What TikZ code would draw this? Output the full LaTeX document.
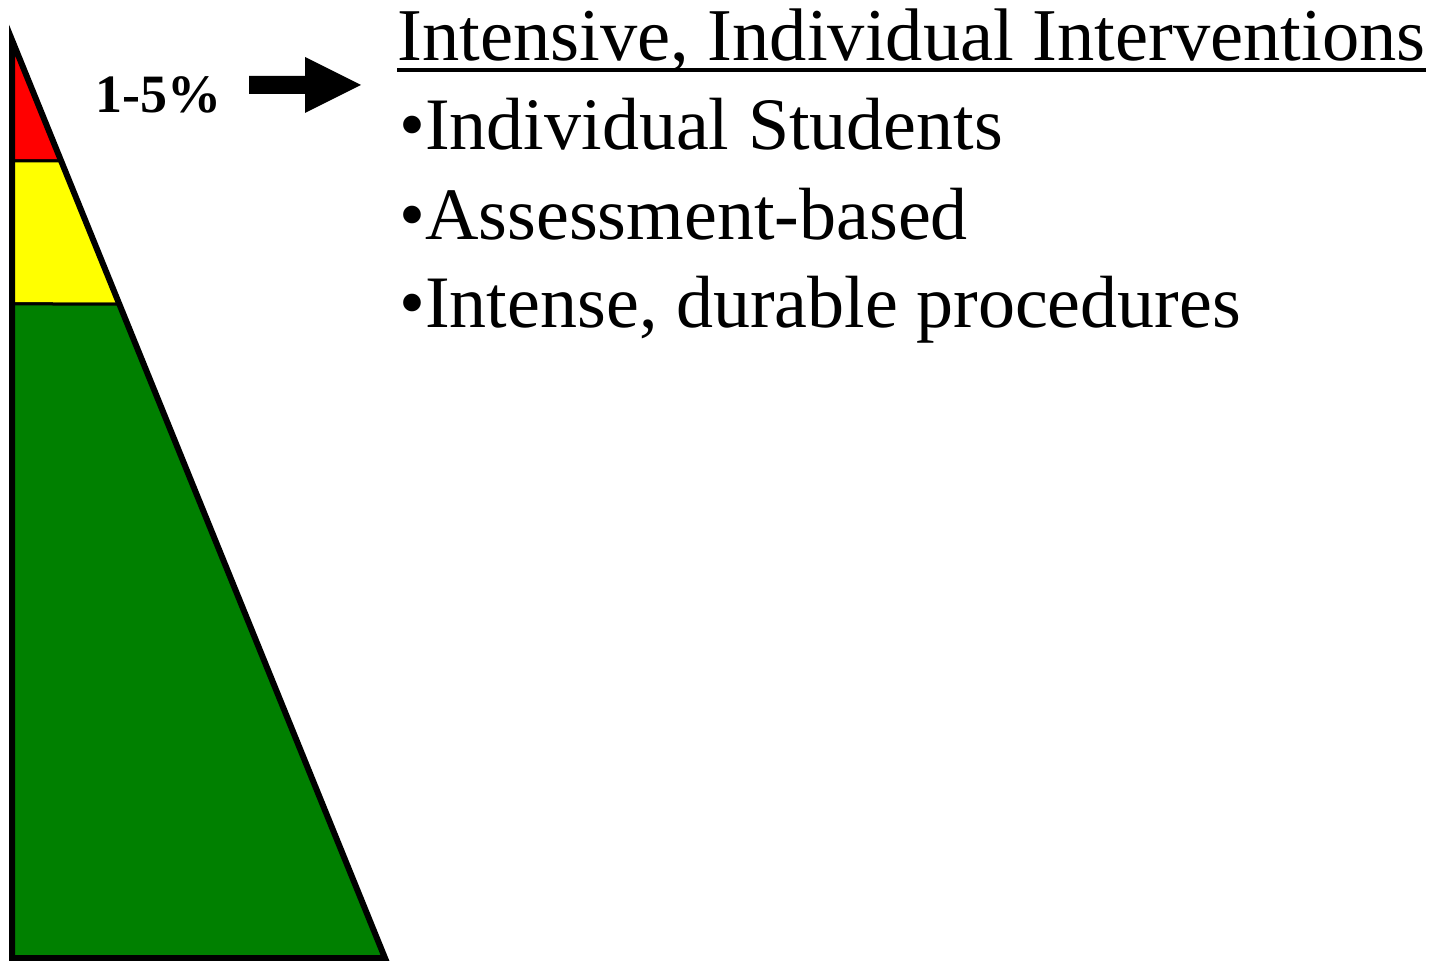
\documentclass[tikz,border=0pt]{standalone}
\usepackage{fontspec}
\setmainfont{Liberation Serif}
\usetikzlibrary{positioning,calc}
\tikzset{>=stealth}
\newcommand*{\bigtext}{\fontsize{37}{40}\selectfont}
\newcommand*{\pcttext}{\fontsize{27}{28}\selectfont\bfseries}

\begin{document}
\begin{tikzpicture}[x=0.5pt,y=-0.5pt]
\useasboundingbox (0,0) rectangle (1434,961);
% Pixel coordinates, y downwards

% Corners of the pyramid half
\coordinate (A) at (12,40);
\coordinate (B) at (385,958);
\coordinate (C) at (12,958);

% Tier boundaries on the slanted edge
\coordinate (R) at ($(A)!0.1318!(B)$);
\coordinate (Y) at ($(A)!0.2876!(B)$);
\coordinate (RL) at (12,161);
\coordinate (YL) at (12,304);

% Coloured tiers
\filldraw[fill=red,line width=1.5pt] (A) -- (R) -- (RL) -- cycle;
\filldraw[fill={rgb,255:red,255;green,255;blue,0},line width=1.5pt] (RL) -- (R) -- (Y) -- (YL) -- cycle;
\filldraw[fill={rgb,255:red,0;green,128;blue,0},line width=1.5pt] (YL) -- (Y) -- (B) -- (C) -- cycle;

% Outline
\draw[line width=3pt,line join=miter] (A) -- (B) -- (C) -- cycle;

% Percentage and arrow
\node[anchor=base west,inner sep=0] (pct) at (95,113) {\pcttext 1-5\%};
\coordinate (tail) at (249,85);
\coordinate (tip) at (361,85);
\fill ($(tail)+(0,-9)$) -- ($(tip)+(-56,-9)$) -- ($(tip)+(-56,-28)$) -- (tip)
  -- ($(tip)+(-56,28)$) -- ($(tip)+(-56,9)$) -- ($(tail)+(0,9)$) -- cycle;

% Heading and list
\node[anchor=base west,inner sep=0] (title) at (397,61) {\fontsize{37.25}{40}\selectfont Intensive, Individual Interventions};
\draw[line width=2pt] ($(title.base west)+(0,9)$) -- ($(title.base east)+(0,9)$);
\node[anchor=base west,inner sep=0] (item1) at (399,150) {\bigtext\textbullet Individual Students};
\node[anchor=base west,inner sep=0] (item2) at (399,240) {\bigtext\textbullet Assessment-based};
\node[anchor=base west,inner sep=0] (item3) at (399,328) {\bigtext\textbullet Intense, durable procedures};

\end{tikzpicture}
\end{document}
